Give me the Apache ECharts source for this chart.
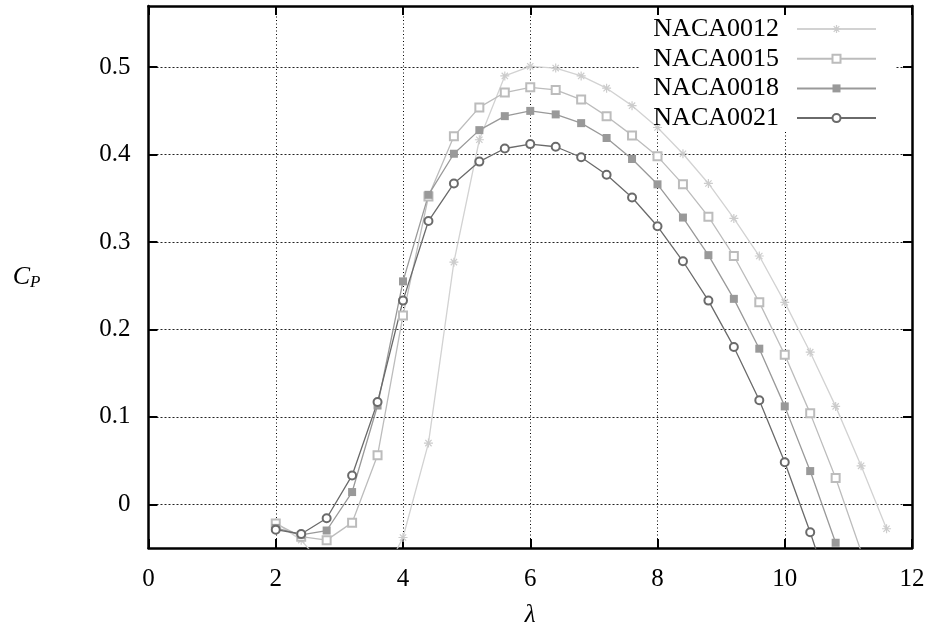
<!DOCTYPE html>
<html>
<head>
<meta charset="utf-8">
<script src="https://cdn.jsdelivr.net/npm/echarts@6/dist/echarts.min.js"></script>
<style>
html,body{margin:0;padding:0;background:#fff;}
#chart{width:933px;height:633px;}
</style>
</head>
<body>
<div id="chart"></div>
<script>
// ---- data ----
var lambda = [2.0, 2.4, 2.8, 3.2, 3.6, 4.0, 4.4, 4.8, 5.2, 5.6, 6.0, 6.4, 6.8, 7.2, 7.6, 8.0, 8.4, 8.8, 9.2, 9.6, 10.0, 10.4, 10.8, 11.2, 11.6];
var naca0012 = [-0.021, -0.041, -0.075, -0.100, -0.095, -0.038, 0.070, 0.277, 0.417, 0.490, 0.501, 0.499, 0.490, 0.476, 0.456, 0.431, 0.401, 0.367, 0.327, 0.284, 0.231, 0.174, 0.112, 0.044, -0.028];
var naca0015 = [-0.022, -0.037, -0.041, -0.021, 0.056, 0.216, 0.352, 0.421, 0.454, 0.471, 0.477, 0.474, 0.463, 0.444, 0.422, 0.398, 0.366, 0.329, 0.284, 0.231, 0.171, 0.104, 0.030, -0.054, null];
var naca0018 = [-0.027, -0.035, -0.030, 0.014, 0.113, 0.255, 0.354, 0.401, 0.428, 0.444, 0.450, 0.446, 0.436, 0.419, 0.395, 0.366, 0.328, 0.285, 0.235, 0.178, 0.112, 0.038, -0.044, null, null];
var naca0021 = [-0.029, -0.034, -0.016, 0.033, 0.117, 0.233, 0.324, 0.367, 0.392, 0.407, 0.412, 0.409, 0.397, 0.377, 0.351, 0.318, 0.278, 0.233, 0.180, 0.119, 0.048, -0.032, -0.120, null, null];
var seriesNames = ['NACA0012', 'NACA0015', 'NACA0018', 'NACA0021'];
var xTicks = [0, 2, 4, 6, 8, 10, 12];
var yTicks = [0, 0.1, 0.2, 0.3, 0.4, 0.5];

function pairs(xs, ys) {
  var out = [];
  for (var i = 0; i < xs.length; i++) out.push([xs[i], ys[i]]);
  return out;
}

var FONT = 'Liberation Serif';
var asterisk = 'path://M5 0L5 10M0 5L10 5M1.5 1.5L8.5 8.5M1.5 8.5L8.5 1.5';

var chart = echarts.init(document.getElementById('chart'), null, {renderer: 'canvas'});

function baseSeries(name, data, color, symbol, size, extraItem) {
  return {
    name: name,
    type: 'line',
    data: pairs(lambda, data),
    connectNulls: false,
    clip: true,
    z: 2,
    symbol: symbol,
    symbolSize: size,
    showAllSymbol: true,
    lineStyle: {color: color, width: 1.3},
    itemStyle: Object.assign({color: color}, extraItem || {}),
    emphasis: {disabled: true},
    animation: false
  };
}

var option = {
  animation: false,
  backgroundColor: '#fff',
  grid: {left: 148.5, right: 21, top: 6, bottom: 84.7, containLabel: false},
  graphic: [{
    type: 'rect',
    z: 1,
    shape: {x: 640, y: 8, width: 255, height: 122},
    style: {fill: '#fff'},
    silent: true
  }],
  legend: {
    orient: 'vertical',
    right: 56,
    top: 16,
    padding: 0,
    align: 'right',
    itemWidth: 79,
    itemHeight: 10,
    itemGap: 3.7,
    z: 4,
    data: [
      {name: seriesNames[0], itemStyle: {color: '#cccccc', borderColor: '#cccccc', borderWidth: 1.2}},
      {name: seriesNames[1]},
      {name: seriesNames[2]},
      {name: seriesNames[3]}
    ],
    textStyle: {fontFamily: FONT, fontSize: 26, color: '#000', lineHeight: 26, padding: [0, 13, 0, 0]},
    selectedMode: false
  },
  xAxis: [{
    type: 'value',
    min: 0, max: 12, interval: 2,
    position: 'bottom',
    name: 'λ',
    nameLocation: 'middle',
    nameGap: 55,
    nameTextStyle: {fontFamily: FONT, fontSize: 25, color: '#000', fontStyle: 'italic'},
    axisLine: {show: true, onZero: false, lineStyle: {color: '#000', width: 2.5}},
    axisTick: {show: true, inside: true, length: 9, lineStyle: {color: '#000', width: 2}},
    axisLabel: {show: true, margin: 19, fontFamily: FONT, fontSize: 25, color: '#000'},
    splitLine: {show: true, lineStyle: {color: '#000', width: 1, type: [1, 2.5]}}
  }, {
    type: 'value',
    min: 0, max: 12, interval: 2,
    position: 'top',
    z: 3,
    axisLine: {show: true, onZero: false, lineStyle: {color: '#000', width: 2.5}},
    axisTick: {show: true, inside: true, length: 9, lineStyle: {color: '#000', width: 2}},
    axisLabel: {show: false},
    splitLine: {show: false}
  }],
  yAxis: [{
    type: 'value',
    min: -0.05, max: 0.57,
    position: 'left',
    name: '{c|C}{p|P}',
    nameLocation: 'middle',
    nameRotate: 0,
    nameGap: 108,
    nameTextStyle: {
      rich: {
        c: {fontFamily: FONT, fontSize: 26, fontStyle: 'italic', color: '#000'},
        p: {fontFamily: FONT, fontSize: 17, fontStyle: 'italic', color: '#000', padding: [12, 0, 0, 0]}
      }
    },
    axisLine: {show: true, onZero: false, lineStyle: {color: '#000', width: 2.5}},
    axisTick: {show: true, inside: true, length: 9, customValues: yTicks, lineStyle: {color: '#000', width: 2}},
    axisLabel: {show: true, margin: 18, customValues: yTicks, fontFamily: FONT, fontSize: 25, color: '#000'},
    splitLine: {show: true, lineStyle: {color: '#222', width: 1, type: [2, 2]}}
  }, {
    type: 'value',
    min: -0.05, max: 0.57,
    position: 'right',
    z: 3,
    axisLine: {show: true, onZero: false, lineStyle: {color: '#000', width: 2.5}},
    axisTick: {show: true, inside: true, length: 9, customValues: yTicks, lineStyle: {color: '#000', width: 2}},
    axisLabel: {show: false, customValues: yTicks},
    splitLine: {show: false}
  }],
  series: [
    baseSeries(seriesNames[0], naca0012, '#d2d2d2', asterisk, 9, {borderColor: '#cccccc', borderWidth: 1.2}),
    baseSeries(seriesNames[1], naca0015, '#bcbcbc', 'emptyRect', 8, {borderWidth: 1.1}),
    baseSeries(seriesNames[2], naca0018, '#999999', 'rect', 8),
    baseSeries(seriesNames[3], naca0021, '#6a6a6a', 'emptyCircle', 8, {borderWidth: 1, borderColor: '#5a5a5a'})
  ]
};

chart.setOption(option);
</script>
</body>
</html>
